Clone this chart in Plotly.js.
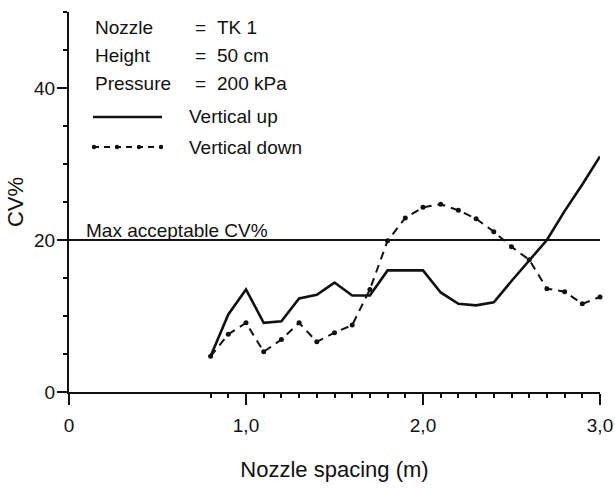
<!DOCTYPE html>
<html>
<head>
<meta charset="utf-8">
<script src="https://cdn.plot.ly/plotly-3.0.1.min.js"></script>
<style>
  html, body { margin: 0; padding: 0; background: #fff; }
  #chart { width: 615px; height: 488px; }
</style>
</head>
<body>
<div id="chart"></div>
<script>
// ---- data ----
var spacingUp = [0.8, 0.9, 1.0, 1.1, 1.2, 1.3, 1.4, 1.5, 1.6, 1.7, 1.8, 1.9, 2.0, 2.1, 2.2, 2.3, 2.4, 2.5, 2.6, 2.7, 2.8, 2.9, 3.0];
var cvUp      = [4.7, 10.2, 13.5, 9.1, 9.3, 12.3, 12.8, 14.4, 12.7, 12.7, 16.0, 16.0, 16.0, 13.1, 11.6, 11.4, 11.8, 14.6, 17.3, 20.0, 23.8, 27.3, 31.0];
var spacingDown = [0.8, 0.9, 1.0, 1.1, 1.2, 1.3, 1.4, 1.5, 1.6, 1.7, 1.8, 1.9, 2.0, 2.1, 2.2, 2.3, 2.4, 2.5, 2.6, 2.7, 2.8, 2.9, 3.0];
var cvDown      = [4.7, 7.6, 9.1, 5.3, 6.9, 9.1, 6.6, 7.8, 8.8, 13.5, 19.9, 22.9, 24.3, 24.7, 23.9, 22.8, 21.1, 19.1, 17.4, 13.6, 13.2, 11.6, 12.5];
var maxAcceptable = 20;
var xTickVals = [0, 1, 2, 3];
var xTickText = ["0", "1,0", "2,0", "3,0"];
var xMinorVals = [0.8, 0.9, 1.1, 1.2, 1.3, 1.4, 1.5, 1.6, 1.7, 1.8, 1.9, 2.1, 2.2, 2.3, 2.4, 2.5, 2.6, 2.7, 2.8, 2.9];
var yTickVals = [0, 20, 40];
var yMinorVals = [5, 10, 15, 25, 30, 35, 45, 50];
var infoLabels = ["Nozzle", "Height", "Pressure"];
var infoValues = ["TK 1", "50 cm", "200 kPa"];
var seriesNames = ["Vertical up", "Vertical down"];
var refLabel = "Max acceptable CV%";

// ---- layout helpers (pixel -> paper) ----
var W = 615, H = 488;
var M = {l: 69, r: 15, t: 12, b: 96};
var PW = W - M.l - M.r, PH = H - M.t - M.b;
function px(x) { return (x - M.l) / PW; }
function py(y) { return (H - M.b - y) / PH; }

var FONT = "Liberation Sans, Arial, sans-serif";
var INK = "#111";

var traces = [
  {x: spacingUp, y: cvUp, type: "scatter", mode: "lines", name: seriesNames[0],
   line: {color: INK, width: 2.6}, showlegend: false, cliponaxis: false},
  {x: spacingDown, y: cvDown, type: "scatter", mode: "lines+markers", name: seriesNames[1],
   line: {color: INK, width: 2, dash: "8px,6px"}, marker: {color: INK, size: 5},
   showlegend: false, cliponaxis: false}
];

var annotations = [];
var rowsY = [27, 55, 83];
for (var i = 0; i < infoLabels.length; i++) {
  annotations.push({xref: "paper", yref: "paper", x: px(93), y: py(rowsY[i]), xanchor: "left", yanchor: "middle",
    text: infoLabels[i], showarrow: false, font: {family: FONT, size: 19, color: INK}});
  annotations.push({xref: "paper", yref: "paper", x: px(193), y: py(rowsY[i]), xanchor: "left", yanchor: "middle",
    text: "=", showarrow: false, font: {family: FONT, size: 19, color: INK}});
  annotations.push({xref: "paper", yref: "paper", x: px(215), y: py(rowsY[i]), xanchor: "left", yanchor: "middle",
    text: infoValues[i], showarrow: false, font: {family: FONT, size: 19, color: INK}});
}
annotations.push({xref: "paper", yref: "paper", x: px(187), y: py(117), xanchor: "left", yanchor: "middle",
  text: seriesNames[0], showarrow: false, font: {family: FONT, size: 19, color: INK}});
annotations.push({xref: "paper", yref: "paper", x: px(187), y: py(147), xanchor: "left", yanchor: "middle",
  text: seriesNames[1], showarrow: false, font: {family: FONT, size: 19, color: INK}});
annotations.push({xref: "paper", yref: "y", x: px(84), y: maxAcceptable, xanchor: "left", yanchor: "bottom",
  yshift: -3, text: refLabel, showarrow: false, font: {family: FONT, size: 19, color: INK}});

var shapes = [
  {type: "line", xref: "paper", yref: "y", x0: 0, x1: 1, y0: maxAcceptable, y1: maxAcceptable,
   line: {color: INK, width: 2}},
  {type: "line", xref: "paper", yref: "paper", x0: px(93), x1: px(162), y0: py(117), y1: py(117),
   line: {color: INK, width: 2.4}},
  {type: "line", xref: "paper", yref: "paper", x0: px(93), x1: px(162), y0: py(147), y1: py(147),
   line: {color: INK, width: 2, dash: "6px,5px"}}
];
var dotX = [94, 117, 139, 161];
dotX.forEach(function (d) {
  shapes.push({type: "circle", xref: "paper", yref: "paper", x0: px(d - 2.2), x1: px(d + 2.2),
    y0: py(147 + 2.2), y1: py(147 - 2.2), fillcolor: INK, line: {width: 0}});
});

var layout = {
  width: W, height: H,
  margin: M,
  paper_bgcolor: "#fff", plot_bgcolor: "#fff",
  showlegend: false,
  font: {family: FONT, color: INK, size: 19},
  xaxis: {
    range: [0, 3], showgrid: false, zeroline: false,
    showline: true, linecolor: INK, linewidth: 2,
    tickmode: "array", tickvals: xTickVals, ticktext: xTickText,
    ticks: "outside", ticklen: 11, tickwidth: 2, tickcolor: INK,
    ticklabelstandoff: 4,
    tickfont: {family: FONT, size: 19, color: INK},
    minor: {tickmode: "array", tickvals: xMinorVals, ticks: "outside", ticklen: 4, tickwidth: 2, tickcolor: INK, showgrid: false},
    title: {text: "Nozzle spacing (m)", font: {family: FONT, size: 22, color: INK}, standoff: 27}
  },
  yaxis: {
    range: [0, 50], showgrid: false, zeroline: false,
    showline: true, linecolor: INK, linewidth: 2,
    tickmode: "array", tickvals: yTickVals,
    ticks: "outside", ticklen: 10, tickwidth: 2, tickcolor: INK,
    ticklabelstandoff: -2,
    tickfont: {family: FONT, size: 19, color: INK},
    minor: {tickmode: "array", tickvals: yMinorVals, ticks: "outside", ticklen: 4, tickwidth: 2, tickcolor: INK, showgrid: false},
    title: {text: "CV%", font: {family: FONT, size: 22, color: INK}, standoff: 4}
  },
  annotations: annotations,
  shapes: shapes
};

Plotly.newPlot("chart", traces, layout, {displayModeBar: false, staticPlot: true});
</script>
</body>
</html>
